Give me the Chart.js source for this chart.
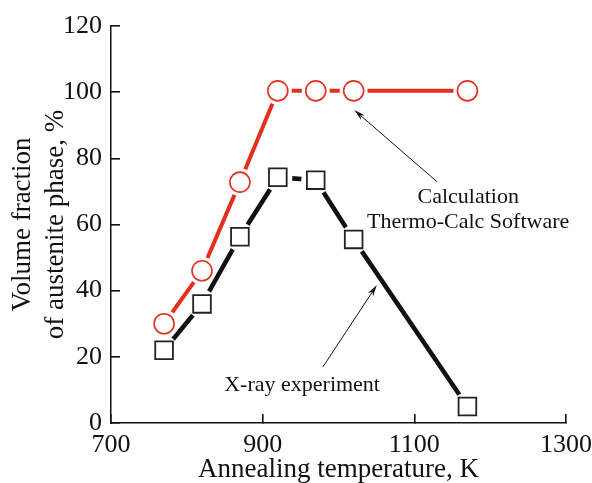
<!DOCTYPE html>
<html>
<head>
<meta charset="utf-8">
<script src="https://cdn.jsdelivr.net/npm/chart.js@4.4.0/dist/chart.umd.min.js"></script>
<style>
  html, body { margin: 0; padding: 0; background: #fff; }
  #wrap { width: 592px; height: 483px; }
</style>
</head>
<body>
<div id="wrap"><canvas id="chart" width="592" height="483"></canvas></div>
<script>
// Annealing temperatures, K
const temps = [770, 820, 870, 920, 970, 1020, 1170];
// Volume fraction of austenite, %
const calcValues = [30, 46, 72.8, 100.4, 100.4, 100.4, 100.4];
const xrayValues = [22, 36, 56.3, 74.3, 73.4, 55.5, 5];
const xTicks = [700, 900, 1100, 1300];
const yTicks = [0, 20, 40, 60, 80, 100, 120];

const RED = '#e2301f';
const INK = '#111';
const SERIF = '"Liberation Serif", "DejaVu Serif", serif';

const toXY = (xs, ys) => xs.map((x, i) => ({ x: x, y: ys[i] }));

// text labels and arrows
const notes = {
    id: 'notes',
    afterDraw(chart) {
        const c = chart.ctx;
        const xs = chart.scales.x, ys = chart.scales.y;
        c.save();

        const arrow = (x1, y1, x2, y2) => {
            const ax = xs.getPixelForValue(x1), ay = ys.getPixelForValue(y1);
            const bx = xs.getPixelForValue(x2), by = ys.getPixelForValue(y2);
            const ang = Math.atan2(by - ay, bx - ax);
            c.strokeStyle = INK;
            c.fillStyle = INK;
            c.lineWidth = 1;
            c.beginPath();
            c.moveTo(ax, ay);
            c.lineTo(bx - 8 * Math.cos(ang), by - 8 * Math.sin(ang));
            c.stroke();
            c.beginPath();
            c.moveTo(bx, by);
            c.lineTo(bx - 12 * Math.cos(ang - 0.25), by - 12 * Math.sin(ang - 0.25));
            c.lineTo(bx - 8 * Math.cos(ang), by - 8 * Math.sin(ang));
            c.lineTo(bx - 12 * Math.cos(ang + 0.25), by - 12 * Math.sin(ang + 0.25));
            c.closePath();
            c.fill();
        };
        arrow(1130, 72.9, 1020.8, 94.6);
        arrow(979.3, 16.9, 1050.6, 41.7);

        c.fillStyle = INK;
        c.textAlign = 'center';
        c.textBaseline = 'middle';
        c.font = '22px ' + SERIF;
        c.fillText('Calculation', xs.getPixelForValue(1171), ys.getPixelForValue(68.3));
        c.fillText('Thermo-Calc Software', xs.getPixelForValue(1171), ys.getPixelForValue(60.7));
        c.fillText('X-ray experiment', xs.getPixelForValue(952), ys.getPixelForValue(11.4));
        c.restore();
    }
};

// inward ticks: negative tick length, no grid in the plot area
const innerGrid = {
    display: true, drawOnChartArea: false, drawTicks: true,
    tickLength: -9, color: INK, lineWidth: 1.6
};

const ctx = document.getElementById('chart').getContext('2d');
new Chart(ctx, {
    type: 'scatter',
    data: {
        datasets: [
            // lines
            { data: toXY(temps, xrayValues), showLine: true, borderColor: INK, borderWidth: 4.5,
              pointRadius: 0, pointHoverRadius: 0, order: 5 },
            { data: toXY(temps, calcValues), showLine: true, borderColor: RED, borderWidth: 4,
              pointRadius: 0, pointHoverRadius: 0, order: 4 },
            // white halos that open gaps around markers
            { data: toXY(temps, xrayValues), showLine: false, pointStyle: 'circle', pointRadius: 14.5,
              backgroundColor: '#fff', borderColor: '#fff', borderWidth: 0, order: 3 },
            { data: toXY(temps, calcValues), showLine: false, pointStyle: 'circle', pointRadius: 14,
              backgroundColor: '#fff', borderColor: '#fff', borderWidth: 0, order: 3 },
            // markers
            { data: toXY(temps, xrayValues), showLine: false, pointStyle: 'rect', pointRadius: 12.5,
              backgroundColor: '#fff', borderColor: '#222', borderWidth: 1.8, order: 1 },
            { data: toXY(temps, calcValues), showLine: false, pointStyle: 'circle', pointRadius: 10,
              backgroundColor: '#fff', borderColor: RED, borderWidth: 1.6, order: 1 }
        ]
    },
    options: {
        responsive: false,
        animation: false,
        layout: { padding: { left: 0, right: 26, top: 26, bottom: 0 } },
        plugins: { legend: { display: false }, tooltip: { enabled: false } },
        scales: {
            x: {
                type: 'linear', min: 700, max: 1300,
                afterBuildTicks: s => { s.ticks = xTicks.map(v => ({ value: v })); },
                afterFit: s => { s.height = 60; s.paddingRight = 0; s.paddingLeft = 0; },
                grid: innerGrid,
                border: { display: true, color: INK, width: 1.5 },
                ticks: { color: INK, padding: 16, maxRotation: 0, callback: v => String(v),
                         font: { family: SERIF, size: 26 } },
                title: { display: true, text: 'Annealing temperature, K', color: INK,
                         padding: { top: 0, bottom: 0 }, font: { family: SERIF, size: 27, lineHeight: 1.0 } }
            },
            y: {
                type: 'linear', min: 0, max: 120,
                afterBuildTicks: s => { s.ticks = yTicks.map(v => ({ value: v })); },
                afterFit: s => { s.width = 111; s.paddingTop = 0; s.paddingBottom = 0; },
                grid: innerGrid,
                border: { display: true, color: INK, width: 1.5 },
                ticks: { color: INK, padding: 18, callback: v => String(v),
                         font: { family: SERIF, size: 26 } },
                title: { display: true, text: ['Volume fraction', 'of austenite phase, %'], color: INK,
                         padding: { top: 7, bottom: 0 }, font: { family: SERIF, size: 27, lineHeight: 1.2 } }
            }
        }
    },
    plugins: [notes]
});
</script>
</body>
</html>
